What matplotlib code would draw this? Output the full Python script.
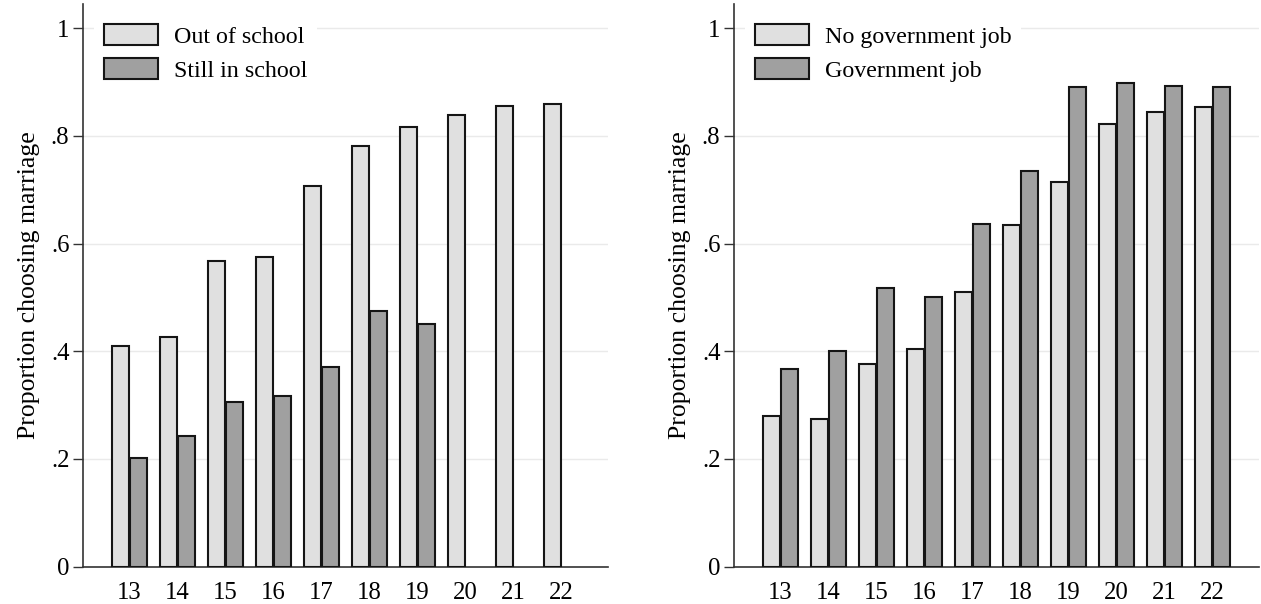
import matplotlib
matplotlib.use('Agg')
import matplotlib.pyplot as plt
import numpy as np

plt.rcParams['font.family'] = ['Liberation Serif', 'DejaVu Serif']

# data
ages = [13, 14, 15, 16, 17, 18, 19, 20, 21, 22]
out_of_school = [0.409, 0.427, 0.568, 0.576, 0.707, 0.781, 0.817, 0.838, 0.856, 0.860]
still_in_school = [0.202, 0.243, 0.306, 0.317, 0.370, 0.474, 0.450]
no_gov_job = [0.280, 0.274, 0.377, 0.404, 0.511, 0.634, 0.714, 0.822, 0.844, 0.853]
gov_job = [0.367, 0.400, 0.517, 0.501, 0.636, 0.735, 0.890, 0.899, 0.893, 0.891]

y_ticks = [0, 0.2, 0.4, 0.6, 0.8, 1.0]
y_tick_labels = ['0', '.2', '.4', '.6', '.8', '1']

LIGHT = '#e0e0e0'
DARK = '#a0a0a0'
EDGE = '#151515'
FS = 17.8
LEG_FS = 17.3

fig = plt.figure(figsize=(12.61, 6.04), dpi=100)


def draw_panel(ax, light_vals, dark_vals, labels):
	x = np.array(ages, dtype=float)
	w = 0.34
	off = 0.1875
	ax.bar(x[:len(light_vals)] - off, light_vals, width=w, color=LIGHT,
		edgecolor=EDGE, linewidth=1.5, label=labels[0], zorder=3)
	ax.bar(x[:len(dark_vals)] + off, dark_vals, width=w, color=DARK,
		edgecolor=EDGE, linewidth=1.5, label=labels[1], zorder=3)

	ax.set_xlim(12.04, 22.97)
	ax.set_ylim(0, 1.045)
	ax.set_xticks(ages)
	ax.set_xticklabels([str(a) for a in ages], fontsize=FS)
	ax.set_yticks(y_ticks)
	ax.set_yticklabels(y_tick_labels, fontsize=FS)
	ax.tick_params(axis='x', length=0, pad=11)
	ax.tick_params(axis='y', length=7, width=1, pad=3, color='#333333')

	for s in ['top', 'right']:
		ax.spines[s].set_visible(False)
	for s in ['left', 'bottom']:
		ax.spines[s].set_linewidth(1.2)
		ax.spines[s].set_color('#333333')

	ax.set_axisbelow(True)
	ax.yaxis.grid(True, color='#eaeaea', linewidth=1)
	ax.set_ylabel('Proportion choosing marriage', fontsize=18.5, labelpad=8)

	leg = ax.legend(loc='upper left', bbox_to_anchor=(0.021, 0.981),
		fontsize=LEG_FS, frameon=True, fancybox=False, framealpha=1,
		handlelength=2.25, handleheight=0.95, handletextpad=0.65,
		labelspacing=0.42, borderpad=0.4, borderaxespad=0)
	leg.get_frame().set_edgecolor('none')
	leg.get_frame().set_facecolor('white')
	leg.set_zorder(5)


ax1 = fig.add_axes([0.0661, 0.0618, 0.4161, 0.9316])
draw_panel(ax1, out_of_school, still_in_school, ['Out of school', 'Still in school'])

ax2 = fig.add_axes([0.5823, 0.0618, 0.4161, 0.9316])
draw_panel(ax2, no_gov_job, gov_job, ['No government job', 'Government job'])

fig.savefig('out.png', dpi=100)
